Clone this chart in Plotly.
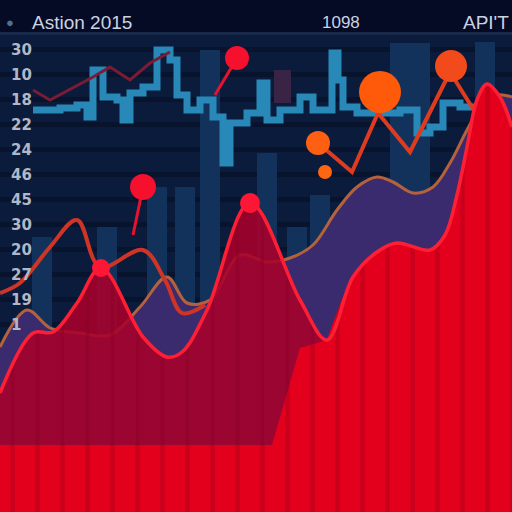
import plotly.graph_objects as go

# header texts
TITLE_LEFT = "Astion 2015"
TITLE_MID = "1098"
TITLE_RIGHT = "API'T"

# y axis tick labels, top to bottom
tick_vals = [92.5, 87.5, 82.5, 77.5, 72.5, 67.5, 62.5, 57.5, 52.5, 47.5, 42.5, 37.5]
tick_text = ["30", "10", "18", "22", "24", "46", "45", "30", "20", "27", "19", "1"]

# dark background columns
col_x = [8.4, 21.4, 31.4, 37, 42, 53.4, 59.4, 64, 80, 84, 97]
col_y = [55, 57, 65, 65, 92.4, 71.8, 57, 63.4, 93.8, 93.8, 94]
maroon_x = [56.4]
maroon_lo = [81.8]
maroon_hi = [88.4]

# cyan step series
cyan_x = [6.6, 12, 15.4, 17.4, 18.6, 20.6, 23.4, 24.6, 26, 28.6, 31.4, 34, 35.4, 37.4,
          40, 42.6, 44.6, 46, 49.4, 52, 53.4, 56, 60, 62.6, 64.6, 66.4, 67.6, 68.6,
          71.4, 80, 83.4, 86, 88.6, 92, 96]
cyan_y = [80.4, 80.8, 81.4, 79, 88.4, 83, 82.4, 78.4, 83.8, 85, 92.4, 90.4, 83.4, 80.4,
          82.4, 79, 69.8, 77.8, 79.8, 85.8, 78.4, 80.4, 83, 80.4, 80.4, 91.8, 86.4, 81,
          79.8, 80.4, 75.8, 77, 81.8, 81, 80.4]

# thin dark red series (top left)
maroon_line_x = [6.6, 10, 18.6, 22, 26, 30, 34]
maroon_line_y = [84.4, 82.4, 87, 89, 86.4, 89.8, 92]

# purple area with brown top
purple_x = [0, 5.4, 10, 16, 22, 28, 33.4, 37.4, 42, 48, 53.4, 58, 62.6, 67.4, 71.4,
            75.4, 78.6, 82.6, 86.6, 90, 93.4, 96, 99.4, 102.4]
purple_y = [33, 40.4, 36.8, 35.8, 35.4, 41, 47, 41.8, 42.4, 51.4, 50, 50.8, 53.4, 60.4,
            65, 67, 66, 63.8, 65, 69.8, 76.4, 80.8, 83.4, 83]

# red-brown series (left)
rust_x = [0, 4, 10, 15.4, 20, 28.6, 33, 36.4, 41]
rust_y = [43.8, 45.8, 53, 58.4, 49, 52.4, 46.4, 39.8, 41.4]

# pins (stem base -> head)
pin_base_x = [43, 26.6]
pin_base_y = [83.4, 55.4]
pin_head_x = [47.4, 28.6]
pin_head_y = [90.8, 65]

# orange series and dots
orange_x = [63.6, 70.4, 75.6, 82, 90, 95, 97]
orange_y = [73.8, 68, 79.8, 72, 88, 80, 76.4]
odot_x = [63.6, 65, 76, 90.2]
odot_y = [73.8, 68, 84, 89.2]

# main red series
red_x = [0, 6.6, 10.6, 15.4, 20.2, 28.6, 33.4, 36.4, 41.4, 50, 60, 65.4, 70.6, 75.4,
         79.4, 86, 89, 91.4, 93.4, 95.4, 97.4, 100, 102.4]
red_y = [23.8, 35.8, 36, 41.8, 48.8, 35, 31, 32, 40.4, 61.8, 42.4, 34.4, 47, 52, 53.8,
         52.4, 55.4, 63.4, 73, 82.4, 85.6, 83, 77]

# bright red base block (left) and its rise
block_x = [0, 54.4, 60, 65.4]
block_y = [13.4, 13.4, 32.8, 34.4]

fig = go.Figure()

fig.add_trace(go.Bar(x=col_x, y=col_y, width=4, marker=dict(color="#12325c", line=dict(width=0))))
fig.add_trace(go.Bar(x=maroon_x, y=[h - l for h, l in zip(maroon_hi, maroon_lo)], base=maroon_lo,
                     width=3.4, marker=dict(color="#3a2446", line=dict(width=0))))

fig.add_trace(go.Scatter(x=cyan_x, y=cyan_y, mode="lines",
                         line=dict(color="#2888b8", width=7, shape="hv")))
fig.add_trace(go.Scatter(x=maroon_line_x, y=maroon_line_y, mode="lines",
                         line=dict(color="#7a1c34", width=3)))

fig.add_trace(go.Scatter(x=purple_x, y=purple_y, mode="lines", fill="tozeroy",
                         fillcolor="#3a2a6e", line=dict(color="#b4623e", width=3, shape="spline")))
fig.add_trace(go.Scatter(x=rust_x, y=rust_y, mode="lines",
                         line=dict(color="#cf3526", width=4, shape="spline")))

stem_x, stem_y = [], []
for bx, by, hx, hy in zip(pin_base_x, pin_base_y, pin_head_x, pin_head_y):
    stem_x += [bx, hx, None]
    stem_y += [by, hy, None]
fig.add_trace(go.Scatter(x=stem_x, y=stem_y, mode="lines", line=dict(color="#e8122e", width=3)))
fig.add_trace(go.Scatter(x=pin_head_x, y=pin_head_y, mode="markers",
                         marker=dict(color="#f5102e", size=[24, 26], opacity=1,
                                     line=dict(width=0))))

fig.add_trace(go.Scatter(x=orange_x, y=orange_y, mode="lines",
                         line=dict(color="#de3c20", width=4)))
fig.add_trace(go.Scatter(x=odot_x, y=odot_y, mode="markers",
                         marker=dict(color=["#ff5f12", "#ff6610", "#ff5a0a", "#f24a1a"],
                                     size=[24, 14, 42, 32], opacity=1, line=dict(width=0))))

# dark red area under the main series
fig.add_trace(go.Scatter(x=red_x, y=red_y, mode="lines", fill="tozeroy",
                         line=dict(width=0, shape="spline"),
                         fillcolor="rgba(168,0,42,0.88)",
                         fillpattern=dict(shape="|", size=25, solidity=0.14,
                                          bgcolor="rgba(168,0,42,0.88)",
                                          fgcolor="rgba(140,0,34,0.9)")))

# bright red block
bright = dict(shape="|", size=25, solidity=0.18, bgcolor="#e3001d", fgcolor="#b0001c")
fig.add_trace(go.Scatter(x=block_x, y=block_y, mode="lines", fill="tozeroy",
                         line=dict(width=0), fillcolor="#e3001d", fillpattern=bright))
fig.add_trace(go.Scatter(x=red_x[11:], y=red_y[11:], mode="lines", fill="tozeroy",
                         line=dict(width=0, shape="spline"), fillcolor="#e3001d",
                         fillpattern=bright))

# main red line on top
fig.add_trace(go.Scatter(x=red_x, y=red_y, mode="lines",
                         line=dict(color="#ff1f35", width=3.5, shape="spline")))
fig.add_trace(go.Scatter(x=[red_x[4], red_x[9]], y=[red_y[4], red_y[9]], mode="markers",
                         marker=dict(color="#ff1635", size=[18, 20], opacity=1,
                                     line=dict(width=0))))

fig.update_layout(
    width=512, height=512,
    margin=dict(l=0, r=0, t=35, b=0),
    paper_bgcolor="#050b25",
    plot_bgcolor="#0b1b3b",
    showlegend=False,
    bargap=0,
    annotations=[
        dict(text="●", x=0.02, y=1.027, xref="paper", yref="paper", showarrow=False,
             font=dict(size=13, color="#4a7394"), xanchor="center", yanchor="middle"),
        dict(text=TITLE_LEFT, x=0.058, y=1.027, xref="paper", yref="paper", showarrow=False,
             font=dict(size=19, color="#cbd2e2", family="Liberation Sans"),
             xanchor="left", yanchor="middle"),
        dict(text=TITLE_MID, x=0.666, y=1.027, xref="paper", yref="paper", showarrow=False,
             font=dict(size=17, color="#cbd2e2", family="Liberation Sans"),
             xanchor="center", yanchor="middle"),
        dict(text=TITLE_RIGHT, x=0.998, y=1.027, xref="paper", yref="paper", showarrow=False,
             font=dict(size=19, color="#cbd2e2", family="Liberation Sans"),
             xanchor="right", yanchor="middle"),
    ],
)
fig.update_xaxes(range=[0, 102.4], showticklabels=False, ticks="", showgrid=False,
                 zeroline=False, showline=True, mirror=True, linecolor="#18294a", linewidth=3)
fig.update_yaxes(range=[0, 95.4], tickmode="array", tickvals=tick_vals, ticktext=tick_text,
                 ticklabelposition="inside", ticklabelstandoff=8,
                 tickfont=dict(size=15, color="#b0b8c8", family="DejaVu Sans", weight="bold"),
                 showgrid=True, gridcolor="#08142e", gridwidth=5, zeroline=False, ticks="")

fig.write_html("out.html", config={"displayModeBar": False},
               post_script="document.body.style.margin='0';")
